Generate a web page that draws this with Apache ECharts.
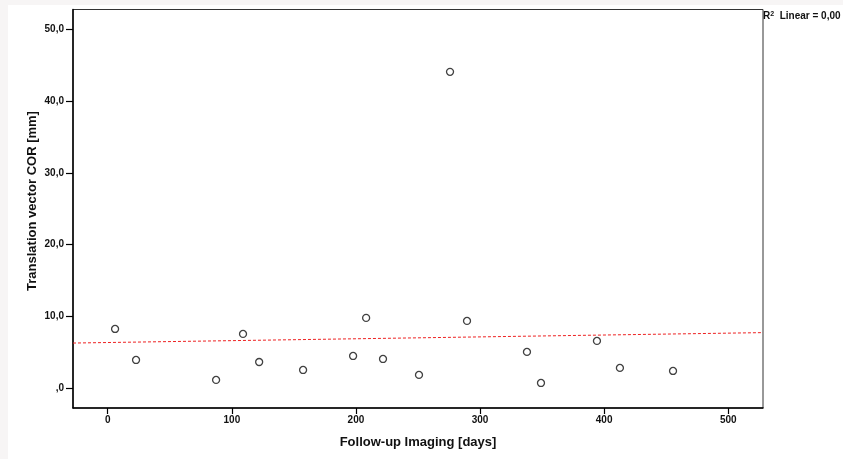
<!DOCTYPE html>
<html>
<head>
<meta charset="utf-8">
<script src="https://cdn.jsdelivr.net/npm/echarts@6/dist/echarts.min.js"></script>
<style>
html,body{margin:0;padding:0;background:#f7f5f5;}
#c{position:absolute;left:8px;top:5px;width:835px;height:454px;background:#fff;}
</style>
</head>
<body>
<div id="c"></div>
<script>
// Data
const followUpDays = [5.9, 22.8, 87.3, 109, 122, 157.4, 197.7, 208.2, 221.8, 250.8, 275.8, 289.5, 337.8, 349.1, 394.2, 412.7, 455.5];
const translationMm = [8.26, 3.94, 1.16, 7.57, 3.66, 2.55, 4.5, 9.8, 4.08, 1.86, 44.07, 9.38, 5.06, 0.74, 6.59, 2.83, 2.41];
const xTicks = [0, 100, 200, 300, 400, 500];
const yTicks = [0, 10, 20, 30, 40, 50];
const xRange = [-28, 528];
const yRange = [-2.75, 52.75];
const xTitle = 'Follow-up Imaging [days]';
const yTitle = 'Translation vector COR [mm]';
const r2Label = 'Linear = 0,00';

// linear regression fit
const n = followUpDays.length;
const mx = followUpDays.reduce((a, b) => a + b, 0) / n;
const my = translationMm.reduce((a, b) => a + b, 0) / n;
let sxy = 0, sxx = 0;
for (let i = 0; i < n; i++) { sxy += (followUpDays[i] - mx) * (translationMm[i] - my); sxx += (followUpDays[i] - mx) ** 2; }
const slope = sxy / sxx, icpt = my - slope * mx;
const fitLine = [[xRange[0], icpt + slope * xRange[0]], [xRange[1], icpt + slope * xRange[1]]];

const pts = followUpDays.map((x, i) => [x, translationMm[i]]);
const FONT = '"Liberation Sans", Arial, sans-serif';

const chart = echarts.init(document.getElementById('c'), null, {renderer: 'canvas'});
chart.setOption({
  backgroundColor: '#fff',
  animation: false,
  grid: {left: 65, right: 80, top: 4.5, bottom: 51, show: true, borderColor: '#333', borderWidth: 1, backgroundColor: 'transparent'},
  xAxis: {
    type: 'value', min: xRange[0], max: xRange[1],
    splitLine: {show: false},
    axisLine: {show: true, onZero: false, lineStyle: {color: '#000', width: 1.5}},
    axisTick: {show: true, length: 6, customValues: xTicks, lineStyle: {color: '#000', width: 1.2}},
    axisLabel: {customValues: xTicks, margin: 7, color: '#111', fontFamily: FONT, fontWeight: 'bold', fontSize: 10},
    name: xTitle, nameLocation: 'middle', nameGap: 28,
    nameTextStyle: {color: '#111', fontFamily: FONT, fontWeight: 'bold', fontSize: 13}
  },
  yAxis: {
    type: 'value', min: yRange[0], max: yRange[1],
    splitLine: {show: false},
    axisLine: {show: true, onZero: false, lineStyle: {color: '#000', width: 1.5}},
    axisTick: {show: true, length: 7, customValues: yTicks, lineStyle: {color: '#000', width: 1.2}},
    axisLabel: {customValues: yTicks, margin: 9, color: '#111', fontFamily: FONT, fontWeight: 'bold', fontSize: 10,
      formatter: v => { let s = v.toFixed(1).replace('.', ','); if (s.startsWith('0,')) s = s.slice(1); return s; }}
  },
  graphic: [
    {type: 'text', x: 24, y: 196, rotation: Math.PI / 2, style: {text: yTitle, fill: '#111', font: 'bold 13px ' + FONT, align: 'center', verticalAlign: 'middle'}},
    {type: 'text', x: 755, y: 11, style: {
      text: '{r|R}{s|2}{t|  ' + r2Label + '}', fill: '#111', verticalAlign: 'middle',
      rich: {r: {font: 'bold 10px ' + FONT, fill: '#111'}, s: {font: 'bold 7px ' + FONT, fill: '#111', verticalAlign: 'top', padding: [0, 0, 4, 0]}, t: {font: 'bold 10px ' + FONT, fill: '#111'}}
    }}
  ],
  series: [
    {type: 'line', data: fitLine, symbol: 'none', silent: true,
      lineStyle: {color: '#ee2222', width: 1, type: [3, 2]}},
    {type: 'scatter', data: pts, symbol: 'circle', symbolSize: 7,
      itemStyle: {color: '#fff', borderColor: '#111', borderWidth: 1.3}}
  ]
});
</script>
</body>
</html>
